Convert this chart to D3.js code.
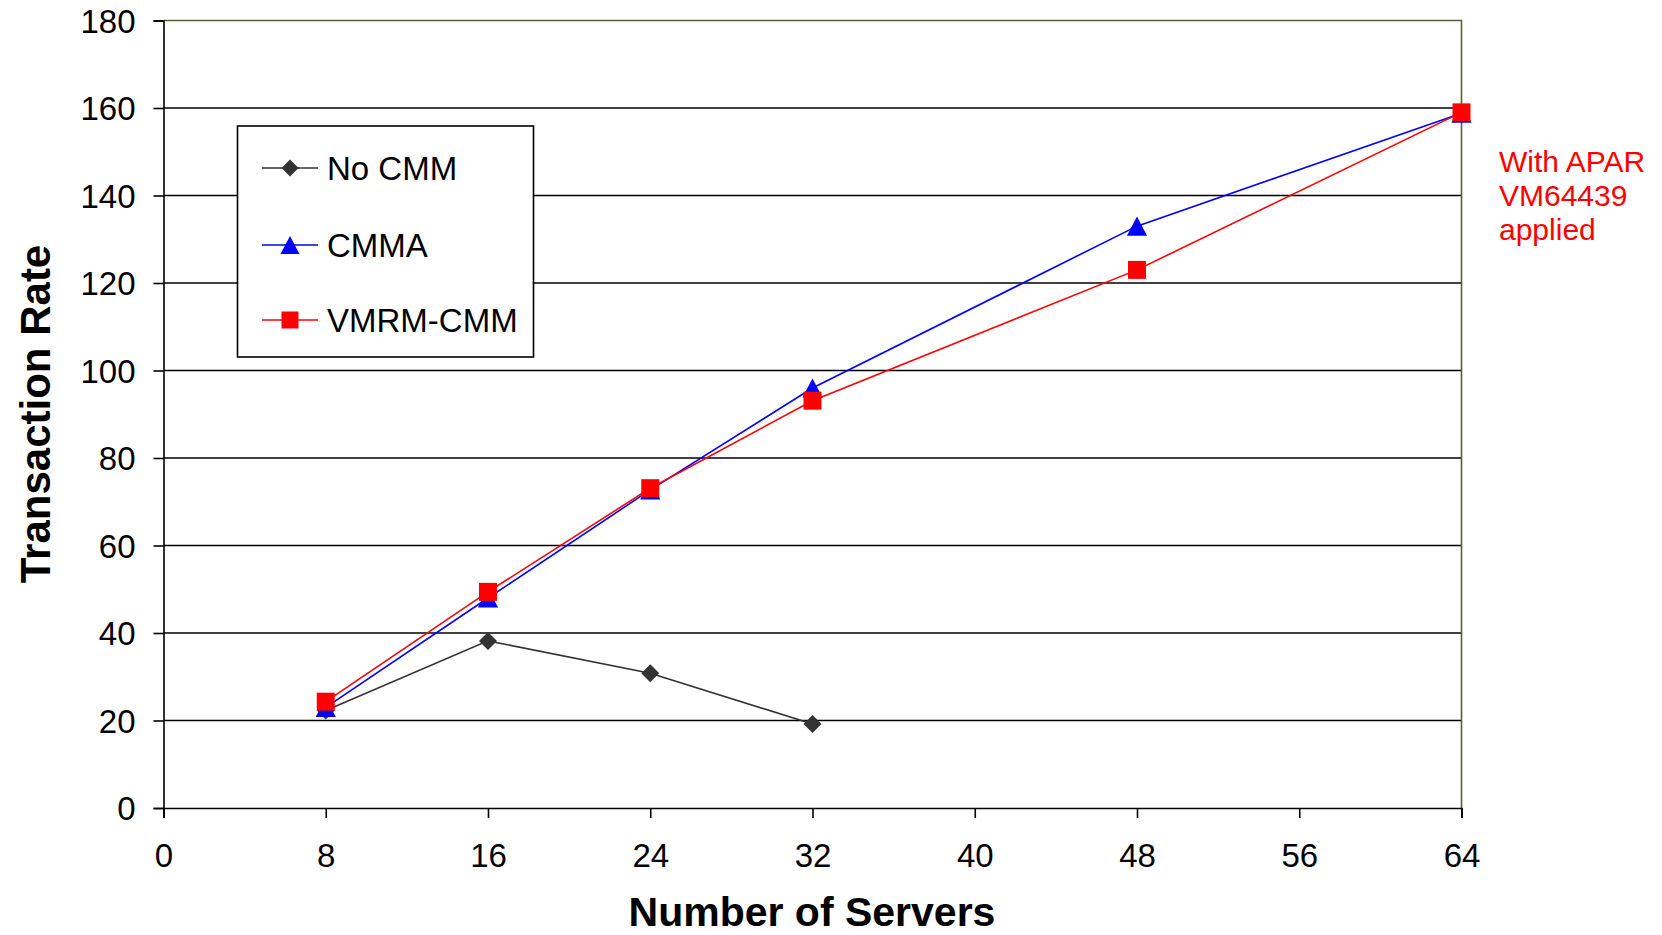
<!DOCTYPE html>
<html>
<head>
<meta charset="utf-8">
<script src="https://cdn.jsdelivr.net/npm/d3@7"></script>
<style>
  html, body { margin: 0; padding: 0; background: #fff; }
  svg { display: block; font-family: "Liberation Sans", Arial, sans-serif; }
</style>
</head>
<body>
<svg id="chart" width="1662" height="935"></svg>
<script>
// Transaction rate by number of servers for three memory-management modes
const servers = [8, 16, 24, 32, 48, 64];
const noCmm = [22.3, 38.2, 30.8, 19.2];          // measured at 8..32 servers only
const cmma = [23.0, 48.0, 72.7, 96.0, 133.0, 158.8];
const vmrmCmm = [24.3, 49.4, 73.1, 93.1, 123.0, 159.0];

const xTicks = [0, 8, 16, 24, 32, 40, 48, 56, 64];
const yTicks = [0, 20, 40, 60, 80, 100, 120, 140, 160, 180];
const seriesNames = ["No CMM", "CMMA", "VMRM-CMM"];
const noteLines = ["With APAR", "VM64439", "applied"];

const series = [
  { name: seriesNames[0], values: noCmm, color: "#333333", shape: "diamond" },
  { name: seriesNames[1], values: cmma, color: "#0000ff", shape: "triangle" },
  { name: seriesNames[2], values: vmrmCmm, color: "#ff0000", shape: "square" }
];

const svg = d3.select("#chart");
const x = d3.scaleLinear().domain([0, 64]).range([163.5, 1461.5]);
const y = d3.scaleLinear().domain([0, 180]).range([808, 20.5]);

// marker path centred at (cx, cy)
function markerPath(shape, cx, cy, s) {
  const h = s / 2;
  if (shape === "diamond") {
    return `M${cx},${cy - h}L${cx + h},${cy}L${cx},${cy + h}L${cx - h},${cy}Z`;
  }
  if (shape === "triangle") {
    const w = s * 0.56, t = s * 0.53;
    return `M${cx},${cy - t}L${cx + w},${cy + t}L${cx - w},${cy + t}Z`;
  }
  return `M${cx - h},${cy - h}h${s}v${s}h${-s}Z`;
}

// horizontal gridlines
const grid = svg.append("g");
grid.selectAll("line")
  .data(yTicks.filter(v => v > 0 && v < 180))
  .join("line")
  .attr("x1", x(0)).attr("x2", x(64))
  .attr("y1", d => y(d)).attr("y2", d => y(d))
  .attr("stroke", "#000").attr("stroke-width", 1.6);

// plot-area border on top and right
svg.append("path")
  .attr("d", `M${x(0)},${y(180)}H${x(64)}V${y(0)}`)
  .attr("fill", "none").attr("stroke", "#5c5c3a").attr("stroke-width", 1.6);

// y axis
const yAxis = svg.append("g").attr("transform", `translate(${x(0)},0)`)
  .call(d3.axisLeft(y).tickValues(yTicks).tickSize(10).tickPadding(18).tickFormat(d3.format("d")));
yAxis.select(".domain").attr("stroke", "#000").attr("stroke-width", 1.6);
yAxis.selectAll(".tick line").attr("stroke", "#000").attr("stroke-width", 1.6);
yAxis.selectAll(".tick text").attr("font-size", 33).attr("fill", "#000")
  .attr("font-family", "Liberation Sans, Arial, sans-serif").attr("dy", "0.36em");

// x axis
const xAxis = svg.append("g").attr("transform", `translate(0,${y(0)})`)
  .call(d3.axisBottom(x).tickValues(xTicks).tickSize(10).tickPadding(26).tickFormat(d3.format("d")));
xAxis.select(".domain").attr("stroke", "#000").attr("stroke-width", 1.6);
xAxis.selectAll(".tick line").attr("stroke", "#000").attr("stroke-width", 1.6);
xAxis.selectAll(".tick text").attr("font-size", 33).attr("fill", "#000")
  .attr("font-family", "Liberation Sans, Arial, sans-serif");

// axis titles
svg.append("text")
  .attr("x", 812).attr("y", 926)
  .attr("text-anchor", "middle")
  .attr("font-size", 41).attr("font-weight", "bold")
  .text("Number of Servers");
svg.append("text")
  .attr("transform", "translate(50,414) rotate(-90)")
  .attr("text-anchor", "middle")
  .attr("font-size", 42).attr("font-weight", "bold")
  .text("Transaction Rate");

// series lines and markers
const line = d3.line().x(d => x(d.x)).y(d => y(d.y));
series.forEach(s => {
  const pts = s.values.map((v, i) => ({ x: servers[i], y: v }));
  const g = svg.append("g");
  g.append("path").attr("d", line(pts))
    .attr("fill", "none").attr("stroke", s.color).attr("stroke-width", 1.6);
  g.selectAll("path.m").data(pts).join("path").attr("class", "m")
    .attr("d", d => markerPath(s.shape, x(d.x), y(d.y), 18))
    .attr("fill", s.color);
});

// legend
const legend = svg.append("g");
legend.append("rect")
  .attr("x", 237.5).attr("y", 126).attr("width", 296).attr("height", 231)
  .attr("fill", "#fff").attr("stroke", "#000").attr("stroke-width", 1.6);
const rowY = [168, 245, 320];
series.forEach((s, i) => {
  const ry = rowY[i];
  legend.append("line").attr("x1", 262).attr("x2", 318).attr("y1", ry).attr("y2", ry)
    .attr("stroke", s.color).attr("stroke-width", 1.6);
  legend.append("path").attr("d", markerPath(s.shape, 290, ry, 17)).attr("fill", s.color);
  legend.append("text").attr("x", 327).attr("y", ry + 12)
    .attr("font-size", 33).attr("fill", "#000").text(s.name);
});

// annotation beside the 64-server point
svg.append("g").selectAll("text").data(noteLines).join("text")
  .attr("x", 1499).attr("y", (d, i) => 172 + i * 34)
  .attr("font-size", 30).attr("fill", "#ff0000")
  .text(d => d);
</script>
</body>
</html>
